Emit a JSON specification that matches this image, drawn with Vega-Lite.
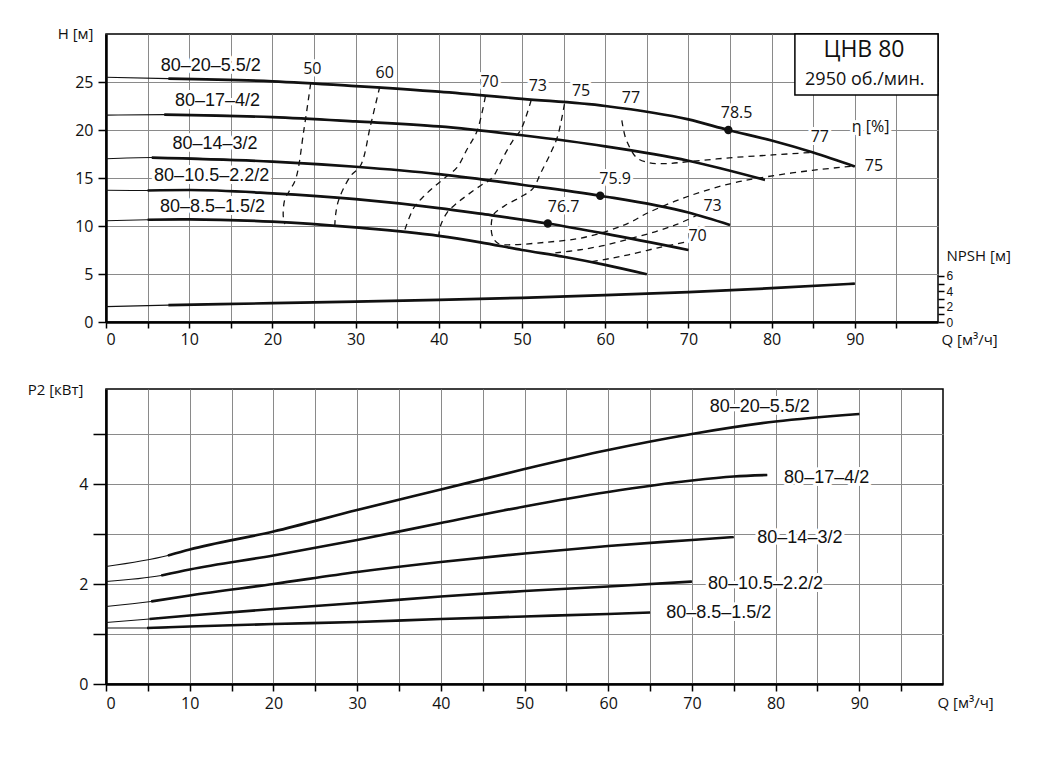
{
  "$schema": "https://vega.github.io/schema/vega-lite/v6.json",
  "background": "white",
  "padding": {"left": 26, "top": 25, "right": 5, "bottom": 5},
  "spacing": 67,
  "bounds": "flush",
  "config": {
    "font": "Open Sans",
    "view": {"stroke": "#000", "strokeWidth": 1.5},
    "axis": {
      "labelFont": "Open Sans", "labelFontSize": 16, "labelColor": "#111",
      "titleFont": "Open Sans", "titleFontSize": 15, "titleFontWeight": "normal", "titleColor": "#111",
      "domainColor": "#000", "domainWidth": 2.5, "tickColor": "#000", "tickWidth": 1.5,
      "gridColor": "#8a8a8a", "gridWidth": 1, "gridOpacity": 1, "labelOverlap": false
    }
  },
  "datasets": {
    "hq": [
      {"pump": "80-20-5.5/2", "Q": 0, "H": 25.5}, {"pump": "80-20-5.5/2", "Q": 7.5, "H": 25.35}, {"pump": "80-20-5.5/2", "Q": 20, "H": 25.07},
      {"pump": "80-20-5.5/2", "Q": 30, "H": 24.58}, {"pump": "80-20-5.5/2", "Q": 40, "H": 24.0}, {"pump": "80-20-5.5/2", "Q": 50, "H": 23.25},
      {"pump": "80-20-5.5/2", "Q": 60, "H": 22.5}, {"pump": "80-20-5.5/2", "Q": 70, "H": 21.1}, {"pump": "80-20-5.5/2", "Q": 74.8, "H": 20.0},
      {"pump": "80-20-5.5/2", "Q": 80, "H": 18.9}, {"pump": "80-20-5.5/2", "Q": 85, "H": 17.65}, {"pump": "80-20-5.5/2", "Q": 90, "H": 16.2},
      {"pump": "80-17-4/2", "Q": 0, "H": 21.55}, {"pump": "80-17-4/2", "Q": 7, "H": 21.6}, {"pump": "80-17-4/2", "Q": 20, "H": 21.34},
      {"pump": "80-17-4/2", "Q": 30, "H": 20.89}, {"pump": "80-17-4/2", "Q": 40, "H": 20.37}, {"pump": "80-17-4/2", "Q": 50, "H": 19.45},
      {"pump": "80-17-4/2", "Q": 60, "H": 18.3}, {"pump": "80-17-4/2", "Q": 70, "H": 16.8}, {"pump": "80-17-4/2", "Q": 79.2, "H": 14.8},
      {"pump": "80-14-3/2", "Q": 0, "H": 17.0}, {"pump": "80-14-3/2", "Q": 5.5, "H": 17.13}, {"pump": "80-14-3/2", "Q": 20, "H": 16.71},
      {"pump": "80-14-3/2", "Q": 30, "H": 16.17}, {"pump": "80-14-3/2", "Q": 40, "H": 15.41}, {"pump": "80-14-3/2", "Q": 50, "H": 14.3},
      {"pump": "80-14-3/2", "Q": 59.4, "H": 13.15}, {"pump": "80-14-3/2", "Q": 70, "H": 11.4}, {"pump": "80-14-3/2", "Q": 75, "H": 10.1},
      {"pump": "80-10.5-2.2/2", "Q": 0, "H": 13.72}, {"pump": "80-10.5-2.2/2", "Q": 5, "H": 13.7}, {"pump": "80-10.5-2.2/2", "Q": 10, "H": 13.75},
      {"pump": "80-10.5-2.2/2", "Q": 20, "H": 13.4}, {"pump": "80-10.5-2.2/2", "Q": 30, "H": 12.8}, {"pump": "80-10.5-2.2/2", "Q": 40, "H": 11.87},
      {"pump": "80-10.5-2.2/2", "Q": 45, "H": 11.28}, {"pump": "80-10.5-2.2/2", "Q": 53.1, "H": 10.26}, {"pump": "80-10.5-2.2/2", "Q": 60, "H": 9.2},
      {"pump": "80-10.5-2.2/2", "Q": 70, "H": 7.5},
      {"pump": "80-8.5-1.5/2", "Q": 0, "H": 10.55}, {"pump": "80-8.5-1.5/2", "Q": 5, "H": 10.65}, {"pump": "80-8.5-1.5/2", "Q": 10, "H": 10.69},
      {"pump": "80-8.5-1.5/2", "Q": 20, "H": 10.45}, {"pump": "80-8.5-1.5/2", "Q": 30, "H": 9.85}, {"pump": "80-8.5-1.5/2", "Q": 40, "H": 8.98},
      {"pump": "80-8.5-1.5/2", "Q": 45, "H": 8.3}, {"pump": "80-8.5-1.5/2", "Q": 50, "H": 7.5}, {"pump": "80-8.5-1.5/2", "Q": 55, "H": 6.8},
      {"pump": "80-8.5-1.5/2", "Q": 60, "H": 5.95}, {"pump": "80-8.5-1.5/2", "Q": 65, "H": 4.97}
    ],
    "npsh": [
      {"Q": 0, "N": 2.0}, {"Q": 7.5, "N": 2.2}, {"Q": 20, "N": 2.45}, {"Q": 30, "N": 2.65}, {"Q": 40, "N": 2.87},
      {"Q": 50, "N": 3.15}, {"Q": 60, "N": 3.5}, {"Q": 70, "N": 3.9}, {"Q": 80, "N": 4.4}, {"Q": 90, "N": 5.0}
    ],
    "eta": [
      {"c": "50", "Q": 24.6, "H": 24.85}, {"c": "50", "Q": 23.8, "H": 20.1}, {"c": "50", "Q": 22.8, "H": 14.9}, {"c": "50", "Q": 22.0, "H": 13.6},
      {"c": "50", "Q": 21.5, "H": 12.8}, {"c": "50", "Q": 21.3, "H": 11.1}, {"c": "50", "Q": 21.5, "H": 10.2},
      {"c": "60", "Q": 32.9, "H": 24.5}, {"c": "60", "Q": 31.8, "H": 20.5}, {"c": "60", "Q": 30.6, "H": 16.3}, {"c": "60", "Q": 29.4, "H": 15.2},
      {"c": "60", "Q": 28.0, "H": 12.8}, {"c": "60", "Q": 27.6, "H": 11.2}, {"c": "60", "Q": 27.5, "H": 10.0},
      {"c": "70", "Q": 45.6, "H": 23.5}, {"c": "70", "Q": 44.6, "H": 19.9}, {"c": "70", "Q": 43.4, "H": 18.0}, {"c": "70", "Q": 42.2, "H": 16.1},
      {"c": "70", "Q": 41.0, "H": 15.2}, {"c": "70", "Q": 39.6, "H": 14.2}, {"c": "70", "Q": 38.2, "H": 13.1}, {"c": "70", "Q": 37.0, "H": 11.9},
      {"c": "70", "Q": 35.8, "H": 9.3},
      {"c": "70b", "Q": 58.4, "H": 6.3}, {"c": "70b", "Q": 60.5, "H": 6.6}, {"c": "70b", "Q": 62.8, "H": 7.0}, {"c": "70b", "Q": 66.2, "H": 7.7},
      {"c": "70b", "Q": 69.5, "H": 8.3},
      {"c": "73", "Q": 51.1, "H": 23.1}, {"c": "73", "Q": 49.9, "H": 20.1}, {"c": "73", "Q": 48.9, "H": 18.9}, {"c": "73", "Q": 47.7, "H": 17.1},
      {"c": "73", "Q": 46.4, "H": 15.0}, {"c": "73", "Q": 45.0, "H": 14.2}, {"c": "73", "Q": 43.4, "H": 13.2}, {"c": "73", "Q": 42.2, "H": 12.4},
      {"c": "73", "Q": 41.0, "H": 11.4}, {"c": "73", "Q": 40.2, "H": 10.0}, {"c": "73", "Q": 40.0, "H": 9.0},
      {"c": "73b", "Q": 54.0, "H": 7.2}, {"c": "73b", "Q": 56.8, "H": 7.5}, {"c": "73b", "Q": 60.0, "H": 8.0}, {"c": "73b", "Q": 63.1, "H": 8.7},
      {"c": "73b", "Q": 66.0, "H": 9.4}, {"c": "73b", "Q": 68.7, "H": 10.2}, {"c": "73b", "Q": 71.0, "H": 11.1},
      {"c": "75", "Q": 55.1, "H": 22.7}, {"c": "75", "Q": 54.3, "H": 19.4}, {"c": "75", "Q": 53.5, "H": 17.7}, {"c": "75", "Q": 52.3, "H": 15.6},
      {"c": "75", "Q": 51.3, "H": 13.9}, {"c": "75", "Q": 49.8, "H": 13.0}, {"c": "75", "Q": 47.9, "H": 12.1}, {"c": "75", "Q": 46.6, "H": 11.2},
      {"c": "75", "Q": 46.3, "H": 10.0}, {"c": "75", "Q": 46.5, "H": 8.8}, {"c": "75", "Q": 47.2, "H": 8.15}, {"c": "75", "Q": 48.8, "H": 8.05},
      {"c": "75", "Q": 52.8, "H": 8.3}, {"c": "75", "Q": 56.8, "H": 8.7}, {"c": "75", "Q": 60.0, "H": 9.4}, {"c": "75", "Q": 62.8, "H": 10.3},
      {"c": "75", "Q": 65.2, "H": 11.4}, {"c": "75", "Q": 70.0, "H": 13.1}, {"c": "75", "Q": 75.0, "H": 14.4}, {"c": "75", "Q": 79.2, "H": 15.1},
      {"c": "75", "Q": 84.9, "H": 15.8}, {"c": "75", "Q": 90.0, "H": 16.25},
      {"c": "77", "Q": 62.0, "H": 21.0}, {"c": "77", "Q": 62.4, "H": 19.3}, {"c": "77", "Q": 63.0, "H": 18.1}, {"c": "77", "Q": 63.8, "H": 17.1},
      {"c": "77", "Q": 65.2, "H": 16.6}, {"c": "77", "Q": 67.2, "H": 16.5}, {"c": "77", "Q": 70.0, "H": 16.7}, {"c": "77", "Q": 74.9, "H": 17.1},
      {"c": "77", "Q": 80.1, "H": 17.4}, {"c": "77", "Q": 84.6, "H": 17.65}
    ],
    "best": [
      {"Q": 74.8, "H": 20.0}, {"Q": 59.4, "H": 13.15}, {"Q": 53.1, "H": 10.26}
    ],
    "etaLab": [
      {"t": "50", "Q": 24.8, "H": 26.35}, {"t": "60", "Q": 33.5, "H": 25.9}, {"t": "70", "Q": 46.1, "H": 24.95},
      {"t": "73", "Q": 51.9, "H": 24.55}, {"t": "75", "Q": 57.1, "H": 24.1}, {"t": "77", "Q": 63.1, "H": 23.3},
      {"t": "78.5", "Q": 75.8, "H": 21.75}, {"t": "77", "Q": 85.8, "H": 19.3}, {"t": "η [%]", "Q": 91.9, "H": 20.3},
      {"t": "75", "Q": 92.3, "H": 16.3}, {"t": "73", "Q": 72.9, "H": 12.1}, {"t": "70", "Q": 71.1, "H": 9.0},
      {"t": "75.9", "Q": 61.2, "H": 14.9}, {"t": "76.7", "Q": 55.0, "H": 11.95}
    ],
    "pumpLabTop": [
      {"t": "80–20–5.5/2", "Q": 12.6, "H": 26.7}, {"t": "80–17–4/2", "Q": 13.4, "H": 23.05},
      {"t": "80–14–3/2", "Q": 13.1, "H": 18.5}, {"t": "80–10.5–2.2/2", "Q": 12.7, "H": 15.2},
      {"t": "80–8.5–1.5/2", "Q": 12.8, "H": 12.0}
    ],
    "box": [{"Q1": 82.8, "Q2": 100, "H1": 23.65, "H2": 30}],
    "boxTitle": [{"t": "ЦНВ 80", "Q": 91.1, "H": 28.3}],
    "boxSub": [{"t": "2950 об./мин.", "Q": 91.2, "H": 25.2}],
    "p2": [
      {"pump": "80-20-5.5/2", "Q": 0, "P": 2.35}, {"pump": "80-20-5.5/2", "Q": 7.4, "P": 2.57}, {"pump": "80-20-5.5/2", "Q": 10, "P": 2.69},
      {"pump": "80-20-5.5/2", "Q": 20, "P": 3.05}, {"pump": "80-20-5.5/2", "Q": 30, "P": 3.48}, {"pump": "80-20-5.5/2", "Q": 40, "P": 3.89},
      {"pump": "80-20-5.5/2", "Q": 50, "P": 4.3}, {"pump": "80-20-5.5/2", "Q": 60, "P": 4.68}, {"pump": "80-20-5.5/2", "Q": 70, "P": 5.0},
      {"pump": "80-20-5.5/2", "Q": 80, "P": 5.25}, {"pump": "80-20-5.5/2", "Q": 90, "P": 5.4},
      {"pump": "80-17-4/2", "Q": 0, "P": 2.05}, {"pump": "80-17-4/2", "Q": 6.6, "P": 2.17}, {"pump": "80-17-4/2", "Q": 10, "P": 2.29},
      {"pump": "80-17-4/2", "Q": 20, "P": 2.57}, {"pump": "80-17-4/2", "Q": 30, "P": 2.88}, {"pump": "80-17-4/2", "Q": 40, "P": 3.22},
      {"pump": "80-17-4/2", "Q": 50, "P": 3.55}, {"pump": "80-17-4/2", "Q": 60, "P": 3.84}, {"pump": "80-17-4/2", "Q": 70, "P": 4.07},
      {"pump": "80-17-4/2", "Q": 75, "P": 4.15}, {"pump": "80-17-4/2", "Q": 79, "P": 4.18},
      {"pump": "80-14-3/2", "Q": 0, "P": 1.55}, {"pump": "80-14-3/2", "Q": 5.4, "P": 1.65}, {"pump": "80-14-3/2", "Q": 10, "P": 1.77},
      {"pump": "80-14-3/2", "Q": 20, "P": 2.0}, {"pump": "80-14-3/2", "Q": 30, "P": 2.24}, {"pump": "80-14-3/2", "Q": 40, "P": 2.44},
      {"pump": "80-14-3/2", "Q": 50, "P": 2.61}, {"pump": "80-14-3/2", "Q": 60, "P": 2.76}, {"pump": "80-14-3/2", "Q": 70, "P": 2.88},
      {"pump": "80-14-3/2", "Q": 75, "P": 2.94},
      {"pump": "80-10.5-2.2/2", "Q": 0, "P": 1.23}, {"pump": "80-10.5-2.2/2", "Q": 5.2, "P": 1.3}, {"pump": "80-10.5-2.2/2", "Q": 10, "P": 1.37},
      {"pump": "80-10.5-2.2/2", "Q": 20, "P": 1.5}, {"pump": "80-10.5-2.2/2", "Q": 30, "P": 1.62}, {"pump": "80-10.5-2.2/2", "Q": 40, "P": 1.75},
      {"pump": "80-10.5-2.2/2", "Q": 50, "P": 1.86}, {"pump": "80-10.5-2.2/2", "Q": 60, "P": 1.95}, {"pump": "80-10.5-2.2/2", "Q": 70, "P": 2.05},
      {"pump": "80-8.5-1.5/2", "Q": 0, "P": 1.12}, {"pump": "80-8.5-1.5/2", "Q": 4.9, "P": 1.12}, {"pump": "80-8.5-1.5/2", "Q": 10, "P": 1.15},
      {"pump": "80-8.5-1.5/2", "Q": 20, "P": 1.2}, {"pump": "80-8.5-1.5/2", "Q": 30, "P": 1.24}, {"pump": "80-8.5-1.5/2", "Q": 40, "P": 1.3},
      {"pump": "80-8.5-1.5/2", "Q": 50, "P": 1.35}, {"pump": "80-8.5-1.5/2", "Q": 60, "P": 1.4}, {"pump": "80-8.5-1.5/2", "Q": 65, "P": 1.43}
    ],
    "pumpLabBot": [
      {"t": "80–20–5.5/2", "Q": 78.1, "P": 5.55}, {"t": "80–17–4/2", "Q": 86.1, "P": 4.12},
      {"t": "80–14–3/2", "Q": 82.9, "P": 2.92}, {"t": "80–10.5–2.2/2", "Q": 78.8, "P": 2.0},
      {"t": "80–8.5–1.5/2", "Q": 73.2, "P": 1.43}
    ]
  },
  "vconcat": [
    {
      "width": 832,
      "height": 288,
      "resolve": {"scale": {"y": "independent"}},
      "layer": [
        {
          "encoding": {
            "x": {
              "field": "Q", "type": "quantitative",
              "scale": {"domain": [0, 100], "nice": false, "zero": false},
              "axis": {
                "values": [0, 5, 10, 15, 20, 25, 30, 35, 40, 45, 50, 55, 60, 65, 70, 75, 80, 85, 90, 95],
                "labelExpr": "datum.value % 10 == 0 ? datum.label : ''",
                "grid": true, "tickSize": 6, "labelPadding": 3,
                "title": "Q [м³/ч]", "titleAngle": 0, "titleX": 835, "titleY": 17,
                "titleAlign": "left", "titleBaseline": "middle"
              }
            },
            "y": {
              "field": "H", "type": "quantitative",
              "scale": {"domain": [0, 30], "nice": false},
              "axis": {
                "values": [0, 5, 10, 15, 20, 25],
                "grid": true, "tickSize": 8, "labelPadding": 5,
                "title": "H [м]", "titleAngle": 0, "titleX": -13, "titleY": -1,
                "titleAlign": "right", "titleBaseline": "middle"
              }
            }
          },
          "layer": [
            {
              "data": {"name": "etaLab"},
              "mark": {"type": "text", "fontSize": 16, "color": "white", "stroke": "white", "strokeWidth": 6, "strokeJoin": "round"},
              "encoding": {"text": {"field": "t"}}
            },
            {
              "data": {"name": "pumpLabTop"},
              "mark": {"type": "text", "font": "Liberation Sans", "fontSize": 18, "color": "white", "stroke": "white", "strokeWidth": 6, "strokeJoin": "round"},
              "encoding": {"text": {"field": "t"}}
            },
            {
              "data": {"name": "eta"},
              "mark": {"type": "line", "color": "#111", "strokeWidth": 1.3, "strokeDash": [6, 5], "interpolate": "catmull-rom"},
              "encoding": {"detail": {"field": "c"}, "order": {"value": null}}
            },
            {
              "data": {"name": "hq"},
              "mark": {"type": "line", "color": "#111", "strokeWidth": 1.1, "interpolate": "monotone"},
              "encoding": {"detail": {"field": "pump"}}
            },
            {
              "data": {"name": "hq"},
              "transform": [{"filter": "datum.Q > 0"}],
              "mark": {"type": "line", "color": "#111", "strokeWidth": 2.7, "interpolate": "monotone"},
              "encoding": {"detail": {"field": "pump"}}
            },
            {
              "data": {"name": "best"},
              "mark": {"type": "point", "filled": true, "color": "#111", "size": 70, "opacity": 1}
            },
            {
              "data": {"name": "box"},
              "mark": {"type": "rect", "fill": "white", "stroke": "#000", "strokeWidth": 1.5},
              "encoding": {
                "x": {"field": "Q1", "type": "quantitative"}, "x2": {"field": "Q2"},
                "y": {"field": "H1", "type": "quantitative"}, "y2": {"field": "H2"}
              }
            },
            {
              "data": {"name": "boxTitle"},
              "mark": {"type": "text", "fontSize": 23, "color": "#111"},
              "encoding": {"text": {"field": "t"}}
            },
            {
              "data": {"name": "boxSub"},
              "mark": {"type": "text", "fontSize": 18, "color": "#111"},
              "encoding": {"text": {"field": "t"}}
            },
            {
              "data": {"name": "etaLab"},
              "mark": {"type": "text", "fontSize": 16, "color": "#111"},
              "encoding": {"text": {"field": "t"}}
            },
            {
              "data": {"name": "pumpLabTop"},
              "mark": {"type": "text", "font": "Liberation Sans", "fontSize": 18, "color": "#111"},
              "encoding": {"text": {"field": "t"}}
            }
          ]
        },
        {
          "data": {"name": "npsh"},
          "encoding": {
            "x": {"field": "Q", "type": "quantitative", "scale": {"domain": [0, 100], "nice": false}},
            "y": {
              "field": "N", "type": "quantitative",
              "scale": {"domain": [0, 37.5], "nice": false},
              "axis": {
                "orient": "right", "values": [0, 1, 2, 3, 4, 5, 6],
                "labelExpr": "datum.value % 2 == 0 ? datum.label : ''",
                "grid": false, "domain": false, "tickSize": 6, "labelPadding": 2,
                "labelFont": "Liberation Sans", "labelFontSize": 12,
                "title": "NPSH [м]", "titleAngle": 0, "titleX": 8, "titleY": 221,
                "titleAlign": "left", "titleBaseline": "middle"
              }
            }
          },
          "layer": [
            {"mark": {"type": "line", "color": "#111", "strokeWidth": 1.1, "interpolate": "monotone"}},
            {"transform": [{"filter": "datum.Q > 0"}], "mark": {"type": "line", "color": "#111", "strokeWidth": 2.7, "interpolate": "monotone"}}
          ]
        }
      ]
    },
    {
      "width": 837,
      "height": 295,
      "encoding": {
        "x": {
          "field": "Q", "type": "quantitative",
          "scale": {"domain": [0, 100], "nice": false, "zero": false},
          "axis": {
            "values": [0, 5, 10, 15, 20, 25, 30, 35, 40, 45, 50, 55, 60, 65, 70, 75, 80, 85, 90, 95],
            "labelExpr": "datum.value % 10 == 0 ? datum.label : ''",
            "grid": true, "tickSize": 7, "labelPadding": 4,
            "title": "Q [м³/ч]", "titleAngle": 0, "titleX": 831, "titleY": 18,
            "titleAlign": "left", "titleBaseline": "middle"
          }
        },
        "y": {
          "field": "P", "type": "quantitative",
          "scale": {"domain": [0, 5.9], "nice": false},
          "axis": {
            "values": [0, 1, 2, 3, 4, 5],
            "labelExpr": "datum.value % 2 == 0 ? datum.label : ''",
            "grid": true, "tickSize": 13, "labelPadding": 5,
            "title": "P2 [кВт]", "titleAngle": 0, "titleX": -23, "titleY": 0,
            "titleAlign": "right", "titleBaseline": "middle"
          }
        }
      },
      "layer": [
        {
          "data": {"name": "pumpLabBot"},
          "mark": {"type": "text", "font": "Liberation Sans", "fontSize": 18, "color": "white", "stroke": "white", "strokeWidth": 6, "strokeJoin": "round"},
          "encoding": {"text": {"field": "t"}}
        },
        {
          "data": {"name": "p2"},
          "mark": {"type": "line", "color": "#111", "strokeWidth": 1.1, "interpolate": "monotone"},
          "encoding": {"detail": {"field": "pump"}}
        },
        {
          "data": {"name": "p2"},
          "transform": [{"filter": "datum.Q > 0"}],
          "mark": {"type": "line", "color": "#111", "strokeWidth": 2.7, "interpolate": "monotone"},
          "encoding": {"detail": {"field": "pump"}}
        },
        {
          "data": {"name": "pumpLabBot"},
          "mark": {"type": "text", "font": "Liberation Sans", "fontSize": 18, "color": "#111"},
          "encoding": {"text": {"field": "t"}}
        }
      ]
    }
  ]
}
